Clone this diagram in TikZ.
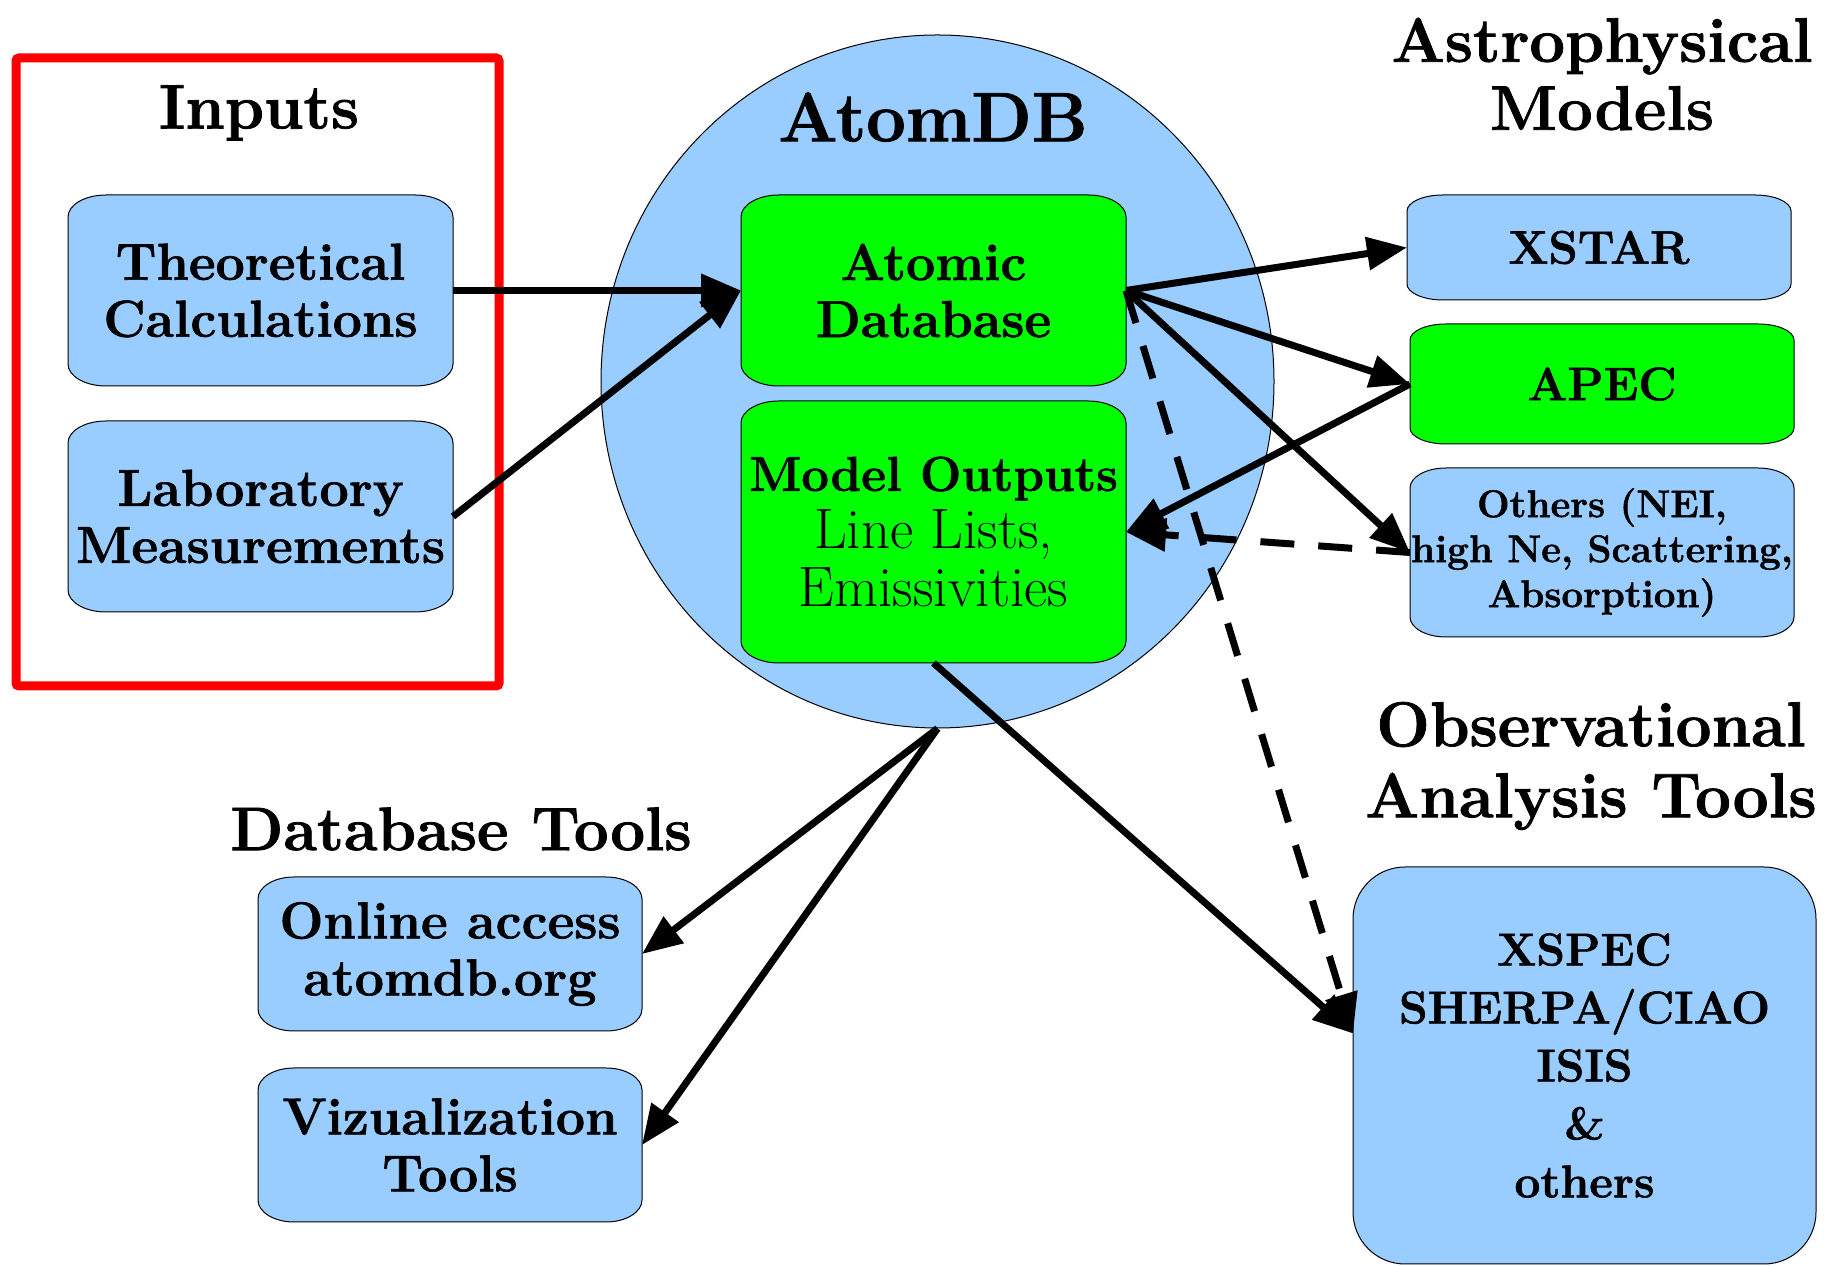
\documentclass[tikz,border=0pt]{standalone}
\usepackage{fontspec}
\setmainfont{Latin Modern Roman}[BoldFeatures={FakeBold=1.2}]
\usetikzlibrary{arrows.meta,calc,backgrounds,shapes.geometric}
\definecolor{skyblue}{HTML}{99CCFF}
\definecolor{boxgreen}{HTML}{00FF00}
\def\capbox[#1](#2:#3:#4){\draw[#1] ($(#2.north west)+(#3,0)$) -- ($(#2.north east)+(-#3,0)$) arc[start angle=90,end angle=0,x radius=#3,y radius=#4] -- ($(#2.south east)+(0,#4)$) arc[start angle=0,end angle=-90,x radius=#3,y radius=#4] -- ($(#2.south west)+(#3,0)$) arc[start angle=270,end angle=180,x radius=#3,y radius=#4] -- ($(#2.north west)+(0,-#4)$) arc[start angle=180,end angle=90,x radius=#3,y radius=#4] -- cycle;}

\begin{document}
\begin{tikzpicture}[x=1pt, y=1pt,
	box/.style={align=center, inner sep=0pt, outer sep=0pt, minimum width=385pt, font=\bfseries\fontsize{52}{57}\selectfont},
	heading/.style={align=center, font=\bfseries\fontsize{63}{68}\selectfont},
	flow/.style={line width=7pt, -{Triangle[length=40pt,width=32pt]}},
	dashflow/.style={flow, dash pattern=on 34pt off 24pt}]
		%%%%% START %%%%%
		\useasboundingbox (0,0) rectangle (1829,1266);
		
		% inputs
		\draw[red, line width=9pt, rounded corners=3pt] (16,580) rectangle (499,1208);
		\node[heading] (inputs) at (259,1153) {Inputs};
		\node[box, minimum height=191pt] (theo) at (260.5,975.5) {Theoretical\\Calculations};
		\node[box, minimum height=191pt] (lab) at (260.5,749.5) {Laboratory\\Measurements};
		
		% atomdb
		\node[heading, font=\bfseries\fontsize{70}{76}\selectfont] (dbtitle) at (933,1149) {AtomDB};
		\node[box, minimum height=191pt] (atomic) at (933.5,975.5) {Atomic\\Database};
		\node[box, minimum height=262pt, font=\fontsize{57}{58}\selectfont] (model) at (933.5,734) {{\bfseries\fontsize{49}{58}\selectfont Model Outputs}\\Line Lists,\\Emissivities};
		
		% models
		\node[heading] (astro) at (1602,1192) {Astrophysical\\Models};
		\node[box, minimum width=384pt, minimum height=105pt, font=\bfseries\fontsize{47}{52}\selectfont] (xstar) at (1599,1018.5) {XSTAR};
		\node[box, minimum width=384pt, minimum height=120pt, font=\bfseries\fontsize{47}{52}\selectfont] (apec) at (1602,882) {APEC};
		\node[box, minimum width=384pt, minimum height=169pt, font=\bfseries\fontsize{38.5}{45}\selectfont] (others) at (1602,713.5) {Others (NEI,\\high Ne, Scattering,\\Absorption)};
		
		% analysis
		\node[heading, font=\bfseries\fontsize{63.5}{71}\selectfont] (obs) at (1591,500) {Observational\\Analysis Tools};
		\node[box, minimum width=463pt, minimum height=397pt, font=\bfseries\fontsize{46}{58}\selectfont] (xspec) at (1584.5,200.5) {XSPEC\\SHERPA/CIAO\\ISIS\\\&\\others};
		
		% tools
		\node[heading, font=\bfseries\fontsize{61.5}{68}\selectfont] (dbtools) at (461,437) {Database Tools};
		\node[box, minimum width=384pt, minimum height=154pt] (online) at (450,312) {Online access\\atomdb.org};
		\node[box, minimum width=384pt, minimum height=154pt] (viz) at (450,121) {Vizualization\\Tools};
		
		\begin{scope}[on background layer]
			\node[ellipse, draw, line width=1pt, fill=skyblue, minimum width=673pt, minimum height=693pt] (atomdb) at (937.5,884.5) {};
			\capbox[fill=skyblue, line width=1pt](theo:38:22);
			\capbox[fill=skyblue, line width=1pt](lab:38:22);
			\capbox[fill=boxgreen, line width=1pt](atomic:38:22);
			\capbox[fill=boxgreen, line width=1pt](model:38:22);
			\capbox[fill=skyblue, line width=1pt](xstar:36:16);
			\capbox[fill=boxgreen, line width=1pt](apec:36:16);
			\capbox[fill=skyblue, line width=1pt](others:36:20);
			\capbox[fill=skyblue, line width=1pt](xspec:52:52);
			\capbox[fill=skyblue, line width=1pt](online:36:22);
			\capbox[fill=skyblue, line width=1pt](viz:36:22);
		\end{scope}
		
		\coordinate (xin) at ($(xspec.west)+(0,32)$);
		
		\draw[flow] (theo.east) -- (atomic.west);
		\draw[flow] (lab.east) -- (atomic.west);
		\draw[flow] (atomic.east) -- (xstar.west);
		\draw[flow] (atomic.east) -- (apec.west);
		\draw[flow] (atomic.east) -- (others.west);
		\draw[flow] (apec.west) -- (model.east);
		\draw[dashflow] (others.west) -- (model.east);
		\draw[dashflow] (atomic.east) -- (xin);
		\draw[flow] (model.south) -- (xin);
		\draw[flow] (atomdb.south) -- (online.east);
		\draw[flow] (atomdb.south) -- (viz.east);
		
		%%%%% END %%%%%
\end{tikzpicture}
\end{document}
